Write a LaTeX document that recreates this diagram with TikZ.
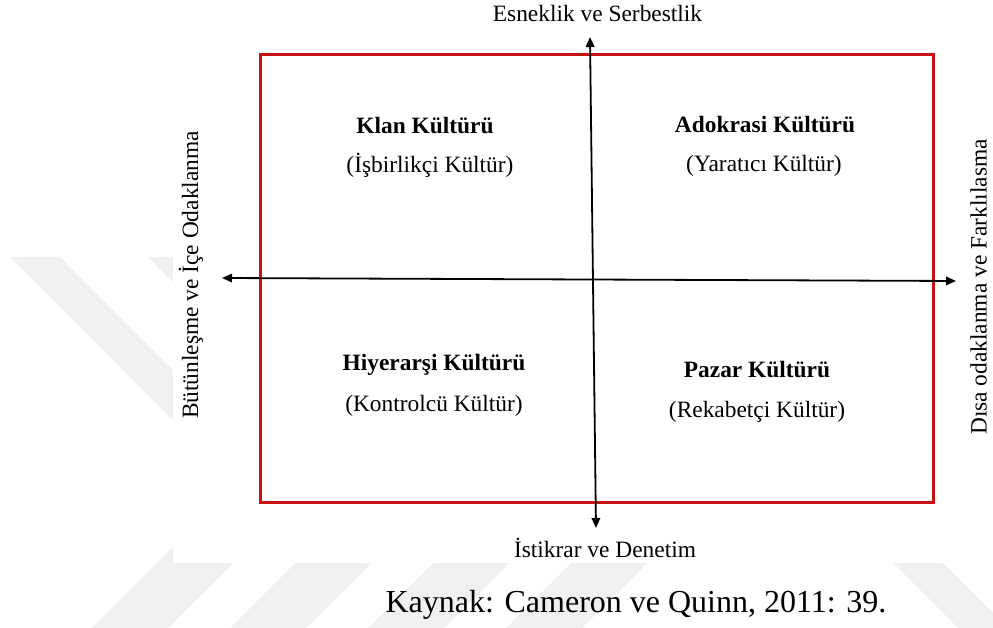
\documentclass[tikz,border=0pt]{standalone}
\usepackage{fontspec}
\setmainfont{Liberation Serif}
\usetikzlibrary{arrows.meta}
\definecolor{boxred}{RGB}{200,18,18}
\definecolor{wm}{RGB}{240,240,240}
\begin{document}
\begin{tikzpicture}[x=1pt,y=-1pt,
  lbl/.style={font=\fontsize{23.4}{28}\selectfont, inner sep=0pt, anchor=base},
  ttl/.style={font=\fontsize{23.4}{28}\selectfont\bfseries, inner sep=0pt, anchor=base},
  axisline/.style={line width=1.8pt, arrows={Triangle[length=10pt,width=8.5pt]-Triangle[length=10pt,width=8.5pt]}},
  wmband/.style={fill=wm, draw=none}
]
\useasboundingbox (0,0) rectangle (993,628);
\clip (0,0) rectangle (993,628);
% watermark chevrons
\foreach \s in {0,138,276,414} {
  \fill[wmband] (10+\s,257) -- (60+\s,257) -- (300+\s,497) -- (168+\s,628) -- (92+\s,628) -- (236+\s,484) -- cycle;
}
\fill[wmband] (893,563) -- (943,563) -- (1008,628) -- (958,628) -- cycle;
\fill[white] (173,0) rectangle (993,563);
% frame
\node[draw=boxred, line width=3pt, minimum width=673pt, minimum height=447pt, inner sep=0pt] (frame) at (596.5,278.5) {};
% axes
\coordinate (L) at (222,278);
\coordinate (R) at (956,281);
\coordinate (T) at (590,37);
\coordinate (B) at (596,528);
\draw[axisline] (L) -- (R);
\draw[axisline] (T) -- (B);
% axis labels
\node[lbl] (top) at (597.5,22) {Esneklik ve Serbestlik};
\node[lbl] (bot) at (605,557) {İstikrar ve Denetim};
\node[lbl, rotate=90] (left) at (198,275) {Bütünleşme ve İçe Odaklanma};
\node[lbl, rotate=90] (right) at (986.5,287) {Dısa odaklanma ve Farklılasma};
% quadrants
\node[ttl] (klan) at (425,134) {Klan Kültürü};
\node[lbl] (klans) at (430,173) {(İşbirlikçi Kültür)};
\node[ttl] (adho) at (765,133) {Adokrasi Kültürü};
\node[lbl] (adhos) at (764,172) {(Yaratıcı Kültür)};
\node[ttl] (hier) at (434,370) {Hiyerarşi Kültürü};
\node[lbl] (hiers) at (434,411) {(Kontrolcü Kültür)};
\node[ttl] (paz) at (757,377) {Pazar Kültürü};
\node[lbl] (pazs) at (757,417) {(Rekabetçi Kültür)};
% source
\node[font=\fontsize{32}{38}\selectfont, inner sep=0pt, anchor=base] (src) at (636,612) {Kaynak: Cameron ve Quinn, 2011: 39.};
\end{tikzpicture}
\end{document}
